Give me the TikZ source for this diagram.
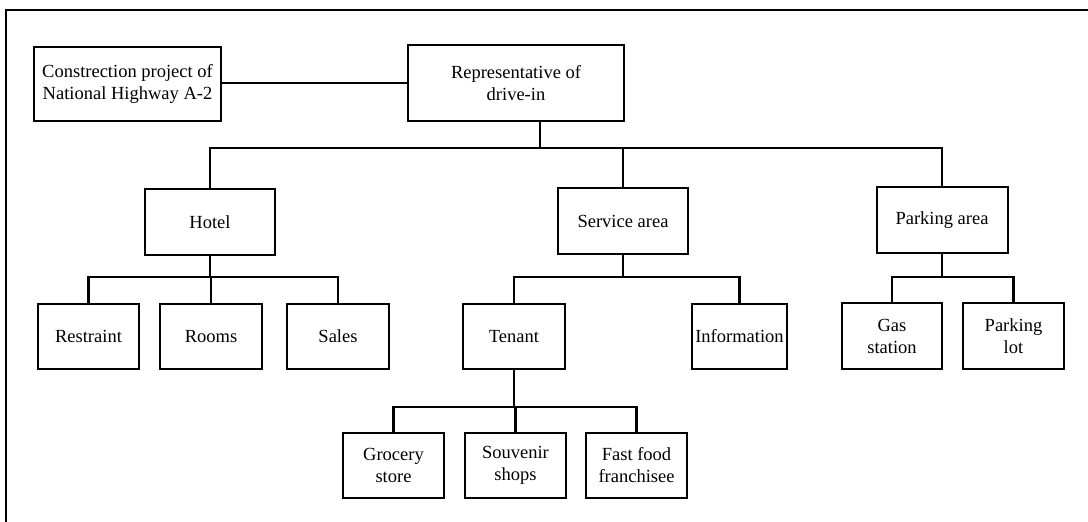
\documentclass[tikz,border=0pt]{standalone}
\usepackage{fontspec}
\setmainfont{Liberation Serif}
\begin{document}
\begin{tikzpicture}[x=1pt,y=-1pt,
  box/.style={draw, line width=2pt, align=center, inner sep=0pt,
    font=\fontsize{18.5}{22}\selectfont},
  link/.style={line width=2.2pt}]
\useasboundingbox (0,0) rectangle (1088,522);
% open frame (top and left sides only)
\draw[line width=2pt] (6,522) -- (6,10) -- (1088,10);

% top level
\node[box, minimum width=187pt, minimum height=74pt] (cons) at (127.5,84)
  {Constrection project of\\National Highway A-2};
\node[box, minimum width=216pt, minimum height=76pt] (rep) at (516,83)
  {Representative of\\drive-in};

% second level
\node[box, minimum width=130pt, minimum height=66pt] (hotel) at (210,222) {Hotel};
\node[box, minimum width=130pt, minimum height=66pt] (service) at (623,221) {Service area};
\node[box, minimum width=131pt, minimum height=66pt] (parking) at (942,220) {Parking area};

% third level
\node[box, minimum width=101pt, minimum height=65pt] (restraint) at (88.5,336.5) {Restraint};
\node[box, minimum width=102pt, minimum height=65pt] (rooms) at (211,336.5) {Rooms};
\node[box, minimum width=102pt, minimum height=65pt] (sales) at (338,336.5) {Sales};
\node[box, minimum width=102pt, minimum height=65pt] (tenant) at (514,336.5) {Tenant};
\node[box, minimum width=95pt, minimum height=65pt] (info) at (739.5,336.5) {Information};
\node[box, minimum width=100pt, minimum height=66pt] (gas) at (892,336) {Gas\\station};
\node[box, minimum width=101pt, minimum height=66pt] (lot) at (1013.5,336) {Parking\\lot};

% fourth level
\node[box, minimum width=101pt, minimum height=65pt] (grocery) at (393.5,465.5) {Grocery\\store};
\node[box, minimum width=101pt, minimum height=65pt] (souvenir) at (515.5,465.5) {Souvenir\\shops};
\node[box, minimum width=101pt, minimum height=65pt] (fastfood) at (636.5,465.5) {Fast food\\franchisee};

% junction points of the tree
\coordinate (j1) at (540,148);
\coordinate (jh) at (210,277);
\coordinate (js) at (623,277);
\coordinate (jp) at (942,277);
\coordinate (jt) at (514,407);

% connectors
\draw[link] (cons.east |- rep.west) -- (rep.west);
\draw[link] (rep.south -| j1) -- (j1);
\draw[link] (hotel.north) |- (j1) -| (parking.north);
\draw[link] (j1) -| (service.north);

\draw[link] (hotel.south) -- (jh);
\draw[link] (restraint.north) |- (jh) -| (sales.north);
\draw[link] (jh) -- (rooms.north |- jh) -- (rooms.north);

\draw[link] (service.south) -- (js);
\draw[link] (tenant.north) |- (js) -| (info.north);

\draw[link] (parking.south) -- (jp);
\draw[link] (gas.north) |- (jp) -| (lot.north);

\draw[link] (tenant.south) -- (jt);
\draw[link] (grocery.north) |- (jt) -| (fastfood.north);
\draw[link] (jt) -| (souvenir.north);
\end{tikzpicture}
\end{document}
